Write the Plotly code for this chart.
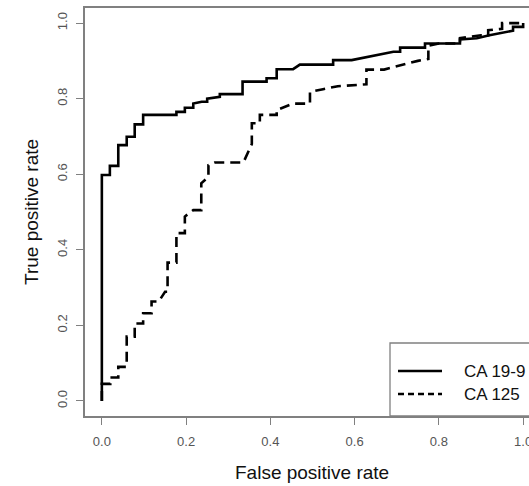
import plotly.graph_objects as go

# ROC curve vertices
fpr_ca199 = [0, 0, 0.019, 0.019, 0.039, 0.039, 0.059, 0.059, 0.078, 0.078, 0.098, 0.098,
             0.177, 0.177, 0.197, 0.197, 0.217, 0.217, 0.237, 0.25, 0.25, 0.28, 0.28,
             0.334, 0.334, 0.391, 0.391, 0.415, 0.415, 0.454, 0.47, 0.549, 0.549,
             0.593, 0.692, 0.708, 0.708, 0.767, 0.767, 0.85, 0.85, 0.89, 0.92, 0.95,
             0.976, 0.976, 1.0, 1.0]
tpr_ca199 = [0, 0.598, 0.598, 0.622, 0.622, 0.677, 0.677, 0.699, 0.699, 0.732, 0.732, 0.757,
             0.757, 0.765, 0.765, 0.776, 0.776, 0.787, 0.792, 0.792, 0.80, 0.805, 0.812,
             0.812, 0.845, 0.845, 0.854, 0.854, 0.878, 0.878, 0.89, 0.89, 0.902,
             0.902, 0.924, 0.924, 0.935, 0.935, 0.946, 0.946, 0.957, 0.96, 0.968, 0.975,
             0.98, 0.99, 0.99, 1.0]

fpr_ca125 = [0, 0, 0.02, 0.02, 0.039, 0.039, 0.059, 0.059, 0.078, 0.078, 0.098, 0.098,
             0.118, 0.118, 0.135, 0.150, 0.156, 0.156, 0.177, 0.177, 0.197, 0.197, 0.217,
             0.236, 0.236, 0.253, 0.253, 0.268, 0.336, 0.356, 0.356, 0.375, 0.375, 0.415,
             0.415, 0.454, 0.494, 0.494, 0.525, 0.56, 0.628, 0.628, 0.67, 0.72, 0.75,
             0.775, 0.775, 0.80, 0.85, 0.85, 0.90, 0.917, 0.917, 0.95, 0.95, 1.0]
tpr_ca125 = [0, 0.045, 0.045, 0.062, 0.062, 0.09, 0.09, 0.17, 0.17, 0.205, 0.205, 0.232,
             0.232, 0.263, 0.263, 0.289, 0.289, 0.366, 0.366, 0.444, 0.444, 0.488, 0.505,
             0.505, 0.576, 0.593, 0.624, 0.631, 0.631, 0.68, 0.735, 0.735, 0.757, 0.757,
             0.77, 0.787, 0.787, 0.818, 0.825, 0.833, 0.838, 0.877, 0.877, 0.892, 0.9,
             0.905, 0.94, 0.946, 0.946, 0.96, 0.968, 0.968, 0.981, 0.985, 1.0, 1.0]

tick_vals = [0.0, 0.2, 0.4, 0.6, 0.8, 1.0]
tick_text = ["0.0", "0.2", "0.4", "0.6", "0.8", "1.0"]
series_names = ["CA 19-9", "CA 125"]

FONT = "Liberation Sans, Arial, sans-serif"
GRAY = "#808080"

fig = go.Figure()
fig.add_trace(go.Scatter(x=fpr_ca199, y=tpr_ca199, mode="lines", name=series_names[0],
                         line=dict(color="black", width=2.6), showlegend=False))
fig.add_trace(go.Scatter(x=fpr_ca125, y=tpr_ca125, mode="lines", name=series_names[1],
                         line=dict(color="black", width=2.6, dash="10px,6px"), showlegend=False))

W, H = 529, 486
L, R, T, B = 85, 0, 8, 70
pw, ph = W - L - R, H - T - B

def px_x(p):
    return (p - L) / pw

def px_y(p):
    return (H - B - p) / ph

# Manual legend (R-style bottomright box, cut off by the frame edge)
fig.add_shape(type="rect", xref="paper", yref="paper",
              x0=px_x(390), x1=1.2, y0=0, y1=px_y(343),
              line=dict(color=GRAY, width=1.3), fillcolor="white", layer="above")
rows = [371, 394]
dashes = ["solid", "6px,4px"]
for name, ry, dsh in zip(series_names, rows, dashes):
    fig.add_shape(type="line", xref="paper", yref="paper",
                  x0=px_x(398), x1=px_x(442), y0=px_y(ry), y1=px_y(ry),
                  line=dict(color="black", width=2.4, dash=dsh), layer="above")
    fig.add_annotation(xref="paper", yref="paper", x=px_x(462), y=px_y(ry),
                       xanchor="left", yanchor="middle", showarrow=False,
                       text=name, font=dict(family=FONT, size=17, color="#111"))

# Axis titles
fig.add_annotation(xref="paper", yref="paper", x=px_x(312), y=px_y(472),
                   xanchor="center", yanchor="middle", showarrow=False,
                   text="False positive rate", font=dict(family=FONT, size=19, color="#111"))
fig.add_annotation(xref="paper", yref="paper", x=px_x(31), y=px_y(212),
                   xanchor="center", yanchor="middle", showarrow=False, textangle=-90,
                   text="True positive rate", font=dict(family=FONT, size=19, color="#111"))

fig.update_layout(
    width=W, height=H,
    margin=dict(l=L, r=R, t=T, b=B, pad=0),
    paper_bgcolor="white", plot_bgcolor="white",
    showlegend=False,
    font=dict(family=FONT),
    xaxis=dict(range=[-0.04, -0.04 + 1.08 * pw / (540 - 85)], tickvals=tick_vals, ticktext=tick_text,
               showgrid=False, zeroline=False, showline=True, mirror=True,
               linecolor=GRAY, linewidth=1.5, ticks="outside", ticklen=7,
               tickcolor=GRAY, tickwidth=1.3, ticklabeloverflow="allow",
               ticklabelstandoff=6,
               tickfont=dict(family=FONT, size=13, color="#555"),
               automargin=False, fixedrange=True),
    yaxis=dict(range=[-0.04, 1.04], tickvals=tick_vals, ticktext=tick_text,
               showgrid=False, zeroline=False, showline=True, mirror=False,
               linecolor=GRAY, linewidth=1.5, ticks="outside", ticklen=7,
               tickcolor=GRAY, tickwidth=1.3, tickangle=-90, ticklabelstandoff=4,
               tickfont=dict(family=FONT, size=13, color="#555"),
               automargin=False, fixedrange=True),
)

fig.write_html("out.html")
